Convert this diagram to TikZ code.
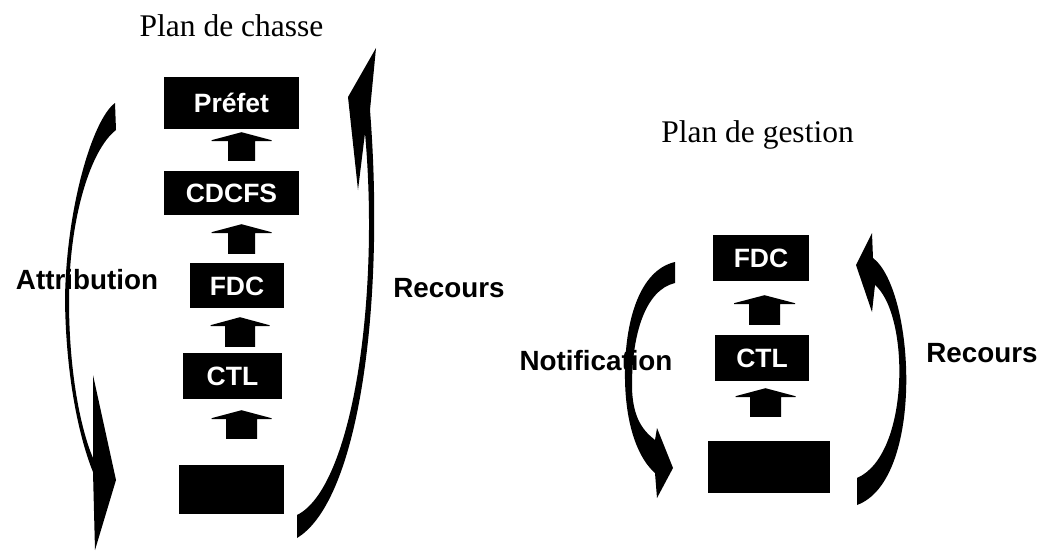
\documentclass[tikz,border=0pt]{standalone}
\usepackage{fontspec}
\setmainfont{Liberation Serif}
\newfontfamily\arialfont{Liberation Sans}
\usetikzlibrary{calc}
\tikzset{
  boxnode/.style={fill=black, text=white, inner sep=0pt, font=\arialfont\bfseries\fontsize{26.5}{26.5}\selectfont, text height=19pt, text depth=0pt},
  titletext/.style={anchor=base, inner sep=0pt, font=\fontsize{31.5}{32}\selectfont},
  labeltext/.style={anchor=base, inner sep=0pt, font=\arialfont\bfseries\fontsize{27.8}{28}\selectfont},
  curvearrow/.style={fill=black, draw=none}
}
% #1 stem-bottom coordinate, #2 tip coordinate, #3 stem half width, #4 head half width
\newcommand{\uparr}[4]{%
  \fill let \p1=(#1), \p2=(#2) in
    (\x1-#3pt,\y1) -- (\x1-#3pt,\y2-9pt) -- (\x1-#4pt,\y2-9pt) -- (\x1-#4pt,\y2-8pt)
    -- (\x1,\y2) -- (\x1+#4pt,\y2-8pt) -- (\x1+#4pt,\y2-9pt) -- (\x1+#3pt,\y2-9pt)
    -- (\x1+#3pt,\y1) -- cycle;}
\begin{document}
\begin{tikzpicture}[x=1pt,y=-1pt]
\useasboundingbox (0,0) rectangle (1042,551);

% ---- titles and labels
\node[titletext] (t1) at (231.5,37) {Plan de chasse};
\node[titletext] (t2) at (757.5,142) {Plan de gestion};
\node[labeltext] (lattr) at (87,289) {Attribution};
\node[labeltext] (lrecL) at (449,297) {Recours};
\node[labeltext] (lnotif) at (596,370) {Notification};
\node[labeltext] (lrecR) at (982,362) {Recours};

% ---- left column boxes
\node[boxnode, minimum width=135pt, minimum height=52pt] (prefet) at (231.5,103) {Préfet};
\node[boxnode, minimum width=135pt, minimum height=44pt] (cdcfs) at (231.5,193) {CDCFS};
\node[boxnode, minimum width=94pt, minimum height=45pt] (fdcL) at (237,285.5) {FDC};
\node[boxnode, minimum width=99pt, minimum height=46pt] (ctlL) at (232.5,376) {CTL};
\node[boxnode, minimum width=105pt, minimum height=49pt] (botL) at (231.5,489.5) {};

% ---- right column boxes
\node[boxnode, minimum width=96pt, minimum height=46pt] (fdcR) at (761,258) {FDC};
\node[boxnode, minimum width=94pt, minimum height=46pt] (ctlR) at (762,358) {CTL};
\node[boxnode, minimum width=122pt, minimum height=52pt] (botR) at (769,467) {};

% ---- block arrows (left)
\coordinate (a1b) at ($(cdcfs.north)+(10,-10)$);
\coordinate (a1t) at ($(prefet.south)+(10,3)$);
\uparr{a1b}{a1t}{13.5}{30}
\coordinate (a2b) at ($(fdcL.north)+(4.5,-9)$);
\coordinate (a2t) at ($(cdcfs.south)+(10,9)$);
\uparr{a2b}{a2t}{13.5}{30}
\coordinate (a3b) at ($(ctlL.north)+(7.5,-6)$);
\coordinate (a3t) at ($(fdcL.south)+(3,9)$);
\uparr{a3b}{a3t}{15}{29.5}
\coordinate (a4b) at ($(botL.north)+(10,-26)$);
\coordinate (a4t) at ($(ctlL.south)+(9,11)$);
\uparr{a4b}{a4t}{15.5}{30}

% ---- block arrows (right)
\coordinate (b1b) at ($(ctlR.north)+(2.5,-10)$);
\coordinate (b1t) at ($(fdcR.south)+(3.5,14)$);
\uparr{b1b}{b1t}{15.5}{30.5}
\coordinate (b2b) at ($(botR.north)+(-3.5,-24)$);
\coordinate (b2t) at ($(ctlR.south)+(4,7)$);
\uparr{b2b}{b2t}{15.5}{30}

% ---- curved arrows
% Attribution (left, downward)
\fill[curvearrow] (115,103) .. controls (92,120) and (66,210) .. (65,300)
  .. controls (66,380) and (80,440) .. (93,472)
  -- (95,550) -- (116,480) -- (93,375) -- (93,458)
  .. controls (83,435) and (69,380) .. (69,300)
  .. controls (69,220) and (90,150) .. (116,130) -- cycle;
% Recours (left diagram, upward)
\fill[curvearrow] (376,48) -- (348,97) -- (358,190) -- (365,133)
  .. controls (380,300) and (352,488) .. (297,515)
  -- (297,538) .. controls (360,500) and (385,300) .. (370,110) -- cycle;
% Notification (right diagram, downward)
\fill[curvearrow] (675,262) .. controls (640,270) and (624,320) .. (625,380)
  .. controls (626,430) and (640,460) .. (655,473)
  -- (657,498) -- (673,468) -- (657,428) -- (655,440)
  .. controls (645,432) and (632,420) .. (632,385)
  .. controls (632,335) and (645,290) .. (675,283) -- cycle;
% Recours (right diagram, upward)
\fill[curvearrow] (872,233) -- (856,265) -- (872,312) -- (875,285)
  .. controls (910,315) and (910,455) .. (857,478)
  -- (857,505) .. controls (925,480) and (915,290) .. (873,258) -- cycle;
\end{tikzpicture}
\end{document}
